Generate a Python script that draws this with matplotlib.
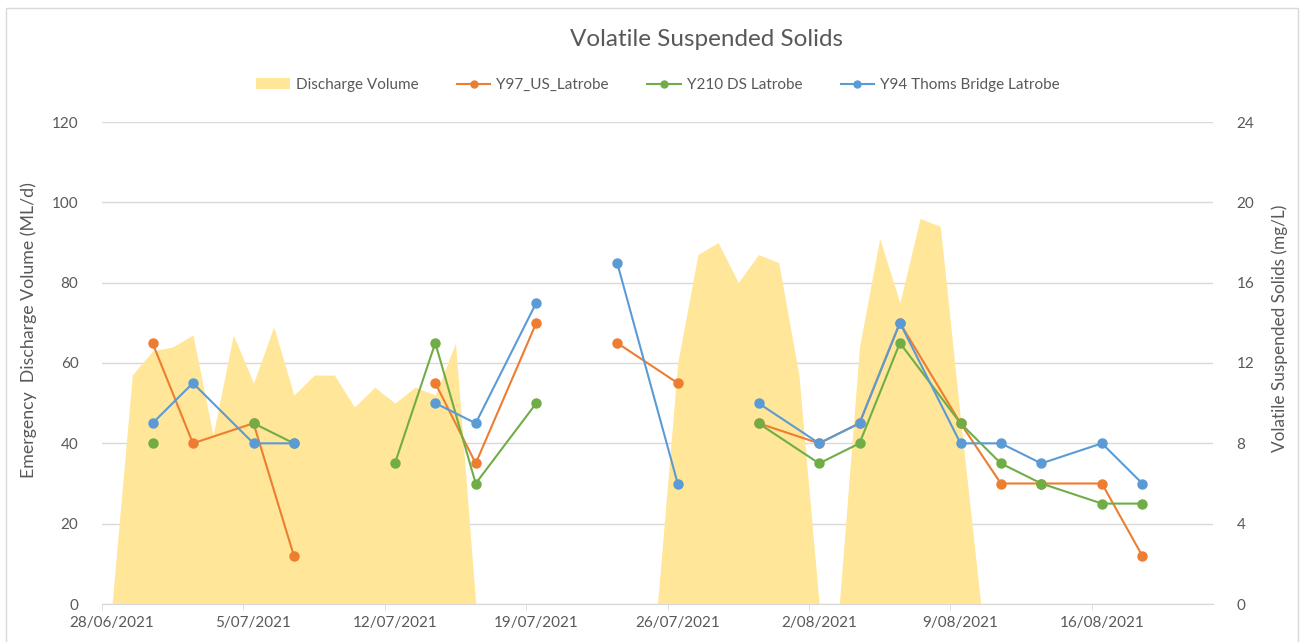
import numpy as np
import pandas as pd
import matplotlib
matplotlib.use("Agg")
import matplotlib.pyplot as plt
import matplotlib.dates as mdates
from matplotlib.patches import Rectangle
from matplotlib.lines import Line2D
from matplotlib.patches import Patch

# daily emergency discharge volume (ML/d), 28/06/2021 -> 21/08/2021
discharge_start = "2021-06-28"
discharge = [0, 57, 63, 64, 67, 42, 67, 55, 69, 52, 57, 57, 49, 54, 50, 54, 52, 65,
             0, 0, 0, 0, 0, 0, 0, 0, 0, 0,
             60, 87, 90, 80, 87, 85, 57, 0,
             0, 64, 91, 75, 96, 94, 46, 0,
             0, 0, 0, 0, 0, 0, 0, 0, 0, 0, 0]

# sample dates (None rows break the lines like blank rows in the sheet)
sample_dates = ["2021-06-30", "2021-07-02", "2021-07-05", "2021-07-07", "2021-07-10",
                "2021-07-12", "2021-07-14", "2021-07-16", "2021-07-19", "2021-07-21",
                "2021-07-23", "2021-07-26", "2021-07-28", "2021-07-30", "2021-08-02",
                "2021-08-04", "2021-08-06", "2021-08-09", "2021-08-11", "2021-08-13",
                "2021-08-16", "2021-08-18"]
y97 = [13, 8, 9, 2.4, None, None, 11, 7, 14, None, 13, 11, None,
       9, 8, 9, 14, 9, 6, 6, 6, 2.4]
y210 = [8, None, 9, 8, None, 7, 13, 6, 10, None, None, None, None,
        9, 7, 8, 13, 9, 7, 6, 5, 5]
y94 = [9, 11, 8, 8, None, None, 10, 9, 15, None, 17, 6, None,
       10, 8, 9, 14, 8, 8, 7, 8, 6]

series_names = ["Y97_US_Latrobe", "Y210 DS Latrobe", "Y94 Thoms Bridge Latrobe"]
series_colors = ["#ED7D31", "#70AD47", "#5B9BD5"]

text_col = "#595959"
grid_col = "#D9D9D9"
plt.rcParams['font.family'] = ['Lato', 'DejaVu Sans']

fig = plt.figure(figsize=(13.03, 6.42), dpi=100)
ax = fig.add_axes([102 / 1303, 1 - 604 / 642, (1213 - 102) / 1303, (604 - 122) / 642])
ax2 = ax.twinx()

days = pd.date_range(discharge_start, periods=len(discharge), freq="D")
xd = mdates.date2num(days)
ax.fill_between(xd, discharge, 0, color="#FFE699", linewidth=0, zorder=1)

xs = mdates.date2num(pd.to_datetime(sample_dates))
for vals, name, col in zip([y97, y210, y94], series_names, series_colors):
    v = np.array([np.nan if a is None else a for a in vals], dtype=float)
    ax2.plot(xs, v, color=col, lw=1.5, marker="o", markersize=6.5, label=name)

# axes limits
ax.set_xlim(xd[0] - 0.5, xd[-1] + 0.5)
ax.set_ylim(0, 120)
ax2.set_ylim(0, 24)
ax.set_yticks(np.arange(0, 121, 20))
ax2.set_yticks(np.arange(0, 25, 4))

# date ticks: labels at day centre, tick marks on day boundary
major = xd[::7]
ax.set_xticks(major)
ax.set_xticklabels([f"{d.day}/{d.month:02d}/{d.year}" for d in days[::7]])
ax.set_xticks(major - 0.5, minor=True)
ax.tick_params(axis="x", which="major", length=0, pad=9, labelsize=11, labelcolor=text_col)
ax.tick_params(axis="x", which="minor", length=4, color=grid_col)
ax.tick_params(axis="y", length=0, pad=17, labelsize=11, labelcolor=text_col)
ax2.tick_params(axis="y", length=0, pad=17, labelsize=11, labelcolor=text_col)

ax.grid(axis="y", color=grid_col, lw=1)
ax.set_axisbelow(True)
for a in (ax, ax2):
    for s in ["top", "left", "right"]:
        a.spines[s].set_visible(False)
    a.spines["bottom"].set_color(grid_col)

ax.set_zorder(ax2.get_zorder() - 1)
ax.patch.set_visible(True)
ax2.patch.set_visible(False)

ax.set_ylabel("Emergency  Discharge Volume (ML/d)", fontsize=12.8, color=text_col)
ax.yaxis.set_label_coords(-0.0585, 0.568)
ax2.set_ylabel("Volatile Suspended Solids (mg/L)", fontsize=12.4, color=text_col,
               rotation=90)
ax2.yaxis.set_label_coords(1.053, 0.572)

fig.text(0.542, 1 - 39 / 642, "Volatile Suspended Solids", ha="center", va="center",
         fontsize=17.5, color=text_col)

handles = [Patch(facecolor="#FFE699", edgecolor="none")]
handles += [Line2D([0], [0], color=c, lw=1.5, marker="o", markersize=5) for c in series_colors]
labels = ["Discharge Volume"] + series_names
fig.legend(handles, labels, loc="center", bbox_to_anchor=(0.505, 1 - 85 / 642), ncol=4,
           frameon=False, fontsize=11, labelcolor=text_col, handlelength=2.2,
           columnspacing=2.5, handletextpad=0.4)

fig.patches.append(Rectangle((6 / 1303, -0.01), (1298 - 6) / 1303, 1 - 8 / 642 + 0.01,
                             transform=fig.transFigure, fill=False, edgecolor=grid_col, lw=1))

fig.savefig("out.png", dpi=100)
